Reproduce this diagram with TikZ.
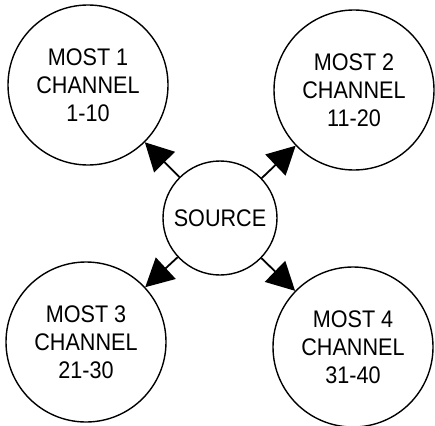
\documentclass[tikz,border=0pt]{standalone}
\usepackage{fontspec}
\setmainfont{Liberation Sans}
\newfontfamily\mostfont[FakeStretch=0.9]{Liberation Sans}
\usetikzlibrary{arrows.meta}

\tikzset{most/.style={circle,draw,line width=1.4pt,minimum size=160pt,inner sep=0pt,align=center,
                      font=\mostfont\fontsize{24}{28}\selectfont},
         feed/.style={-{Triangle[length=28pt,width=29pt]},line width=1.8pt}}

\begin{document}
\begin{tikzpicture}[x=1pt,y=-1pt]
                  \useasboundingbox (0,0) rectangle (435,425);
                  \node[most] (most1) at (88,85) {MOST 1\\CHANNEL\\1-10};
                  \node[most] (most2) at (354,90) {MOST 2\\CHANNEL\\11-20};
                  \node[most] (most3) at (86,342) {MOST 3\\CHANNEL\\21-30};
                  \node[most] (most4) at (353,347) {MOST 4\\CHANNEL\\31-40};
                  \node[most,minimum size=114pt] (source) at (220,218) {SOURCE};
                  \draw[feed] (source) -- (most1);
                  \draw[feed] (source) -- (most2);
                  \draw[feed] (source) -- (most3);
                  \draw[feed] (source) -- (most4);
              \end{tikzpicture}
\end{document}
